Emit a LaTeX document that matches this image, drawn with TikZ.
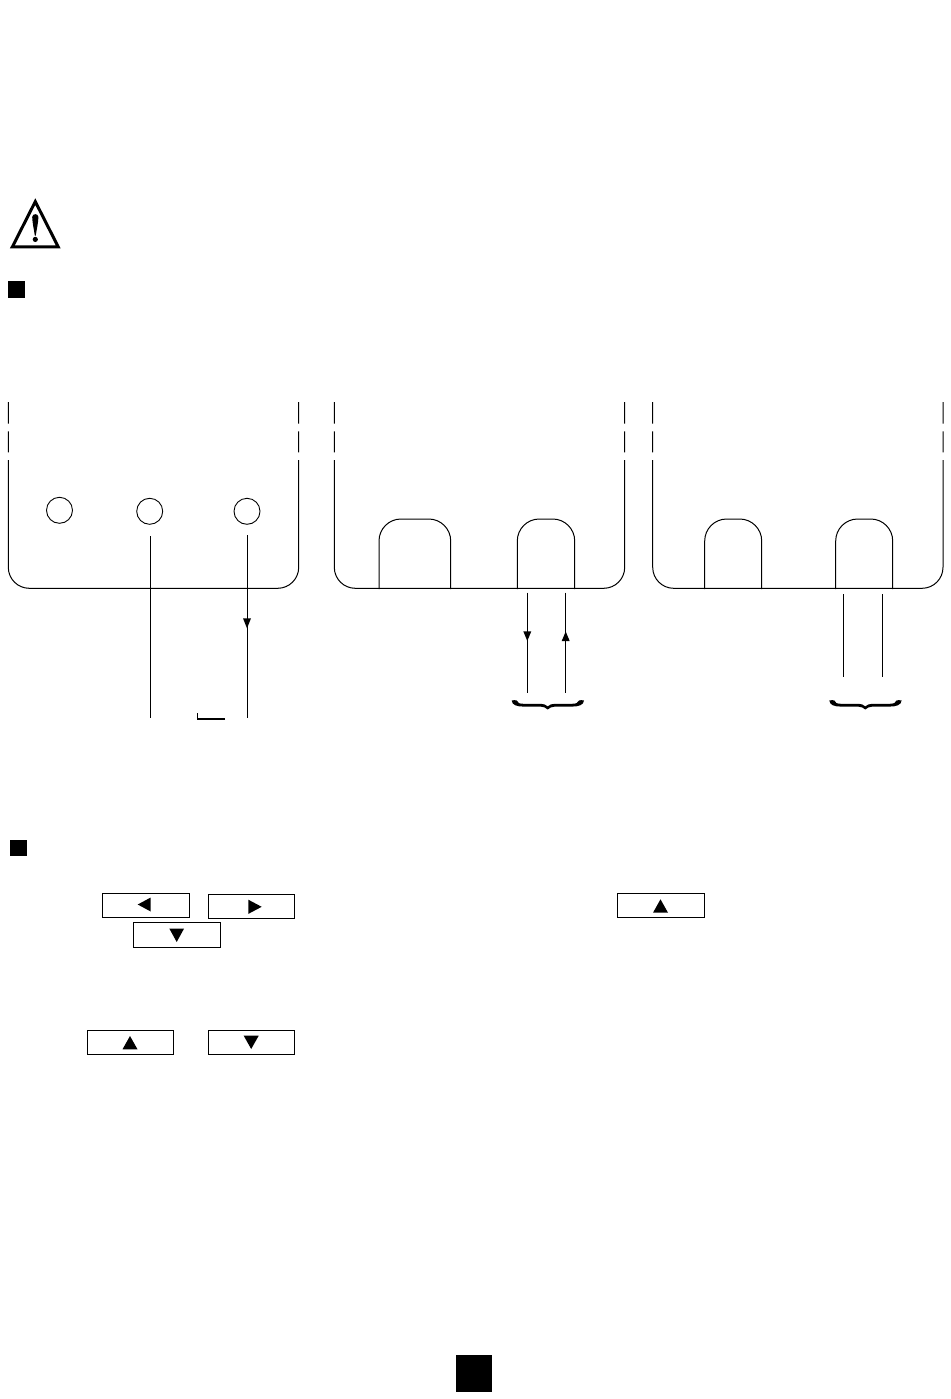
\documentclass[tikz,border=0pt]{standalone}
\begin{document}
\begin{tikzpicture}[x=1pt,y=-1pt,
  frame/.style={draw=black,line width=1pt},
  wire/.style={draw=black,line width=0.8pt},
  jack/.style={circle,draw=black,line width=0.9pt,minimum size=26pt,inner sep=0pt},
  keybox/.style={rectangle,draw=black,line width=1pt,inner sep=0pt},
  tip/.style={fill=black,draw=none}]
\useasboundingbox[fill=white] (0,0) rectangle (950,1399);
% warning triangle
\draw[line width=3pt,miter limit=10,line join=miter] (35.3,201.6) -- (12.4,246.8) -- (58.2,246.8) -- cycle;
\fill (32.2,217) .. controls (32.5,213.2) and (38.1,213.2) .. (38.4,217) .. controls (38.3,223) and (36.5,230) .. (35.8,235.5) -- (34.8,235.5) .. controls (34.1,230) and (32.3,223) .. (32.2,217) -- cycle;
\fill (35.3,239.4) circle (2.6);
% section squares
\fill (8,281) rectangle (25,298);
\fill (10.3,840) rectangle (26.7,856);
\fill (456.3,1354.7) rectangle (492.3,1391.7);
% panel 1
\draw[frame] (8.3,402) -- (8.3,423.5) (8.3,431.3) -- (8.3,452.3)
  (8.3,460) -- (8.3,567.3) arc[start angle=180,end angle=90,radius=21] -- (277.7,588.3) arc[start angle=90,end angle=0,radius=21] -- (298.7,460)
  (298.7,452.3) -- (298.7,431.3) (298.7,423.5) -- (298.7,402);
\node[jack] (j1) at (59.5,510.3) {};
\node[jack] (j2) at (149.7,511.3) {};
\node[jack] (j3) at (247,511.3) {};
\coordinate (a1) at (150.3,536); \coordinate (a2) at (150.3,717.5);
\coordinate (b1) at (247,535); \coordinate (b2) at (247,717.5);
\draw[wire] (a1) -- (a2);
\draw[wire] (b1) -- (b2);
\fill[tip] (243,618.3) -- (251,618.3) -- (247,628.3) -- cycle;
\draw[line width=1.1pt] (225,719) -- (197.5,719);
\draw[line width=1.8pt] (197.5,719.5) -- (197.5,713.3);
% panel 2
\draw[frame] (334.3,402) -- (334.3,423.5) (334.3,431.3) -- (334.3,452.3)
  (334.3,460) -- (334.3,567.3) arc[start angle=180,end angle=90,radius=21] -- (603.7,588.3) arc[start angle=90,end angle=0,radius=21] -- (624.7,460)
  (624.7,452.3) -- (624.7,431.3) (624.7,423.5) -- (624.7,402);
\draw[frame] (379,589) -- (379,541) arc[start angle=180,end angle=270,radius=22] -- (428.7,519) arc[start angle=270,end angle=360,radius=22] -- (450.7,589);
\draw[frame] (517.3,589) -- (517.3,541) arc[start angle=180,end angle=270,radius=22] -- (552.7,519) arc[start angle=270,end angle=360,radius=22] -- (574.7,589);
\coordinate (c1) at (527.3,592.7); \coordinate (c2) at (527.3,693.3);
\coordinate (d1) at (565.7,592.7); \coordinate (d2) at (565.7,693.3);
\draw[wire] (c1) -- (c2);
\draw[wire] (d1) -- (d2);
\fill[tip] (523.3,631.3) -- (531.3,631.3) -- (527.3,641) -- cycle;
\fill[tip] (561.7,641) -- (569.7,641) -- (565.7,631.5) -- cycle;
% panel 3
\draw[frame] (652.7,402) -- (652.7,423.5) (652.7,431.3) -- (652.7,452.3)
  (652.7,460) -- (652.7,567.3) arc[start angle=180,end angle=90,radius=21] -- (922,588.3) arc[start angle=90,end angle=0,radius=21] -- (943,460)
  (943,452.3) -- (943,431.3) (943,423.5) -- (943,402);
\draw[frame] (704.7,589) -- (704.7,541) arc[start angle=180,end angle=270,radius=22] -- (739.7,519) arc[start angle=270,end angle=360,radius=22] -- (761.7,589);
\draw[frame] (835.7,589) -- (835.7,541) arc[start angle=180,end angle=270,radius=22] -- (870.7,519) arc[start angle=270,end angle=360,radius=22] -- (892.7,589);
\coordinate (e1) at (843.3,594); \coordinate (e2) at (843.3,677);
\coordinate (f1) at (882.3,594); \coordinate (f2) at (882.3,677);
\draw[wire] (e1) -- (e2);
\draw[wire] (f1) -- (f2);
% braces
\foreach \bx in {511.7,829.3}{
\begin{scope}[xshift=\bx pt]
\fill (0,700.5) .. controls (2,700) and (4,700) .. (5,700.5)
  .. controls (5.5,703) and (8,703.8) .. (12,703.8) -- (29,703.8)
  .. controls (32,703.8) and (34,704.6) .. (36,706.4)
  .. controls (38,704.6) and (40,703.8) .. (43,703.8) -- (60,703.8)
  .. controls (64,703.8) and (66.8,703) .. (67.3,700.5)
  .. controls (68.5,700) and (70.5,700) .. (72.3,700.5)
  .. controls (72,705) and (67,706.6) .. (60,706.6) -- (43,706.6)
  .. controls (40,706.6) and (38,707.8) .. (36,709.5)
  .. controls (34,707.8) and (32,706.6) .. (29,706.6) -- (12,706.6)
  .. controls (5,706.6) and (0.3,705) .. (0,700.5) -- cycle;
\end{scope}}
% key buttons
\node[keybox,minimum width=87.4pt,minimum height=24.4pt] (k1) at (146,905.5) {};
\fill (150.7,897.5) -- (150.7,911.5) -- (137.7,904.5) -- cycle;
\node[keybox,minimum width=86.4pt,minimum height=24pt] (k2) at (251.5,906.3) {};
\fill (248.3,899.7) -- (248.3,913.9) -- (261.7,906.8) -- cycle;
\node[keybox,minimum width=87pt,minimum height=25pt] (k3) at (176.8,934.8) {};
\fill (169.4,928.7) -- (184,928.7) -- (176.7,942) -- cycle;
\node[keybox,minimum width=87pt,minimum height=24.4pt] (k4) at (660.5,905.5) {};
\fill (653,912.7) -- (668,912.7) -- (660.5,899.3) -- cycle;
\node[keybox,minimum width=86.4pt,minimum height=24pt] (k5) at (130.5,1042.3) {};
\fill (122.5,1049.3) -- (137.5,1049.3) -- (130,1036) -- cycle;
\node[keybox,minimum width=86.4pt,minimum height=24pt] (k6) at (251.5,1042.3) {};
\fill (243.7,1035.7) -- (258.7,1035.7) -- (251.2,1049) -- cycle;
\end{tikzpicture}
\end{document}
